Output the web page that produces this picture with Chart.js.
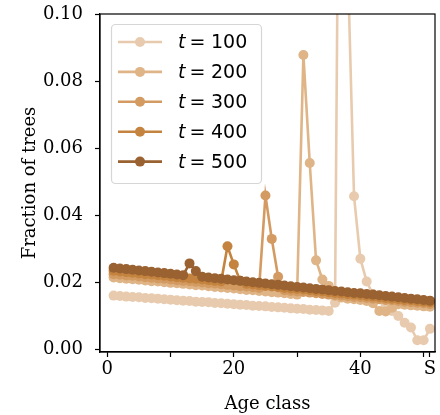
<!DOCTYPE html>
<html lang="en">
<head>
    <meta charset="UTF-8">
    <title>Age class distribution</title>
    <script src="https://cdn.jsdelivr.net/npm/chart.js@4.4.1/dist/chart.umd.min.js"></script>
    <style>
        body { margin: 0; background: #fff; }
        #wrap { width: 440px; height: 415px; position: relative; }
    </style>
</head>
<body>
    <div id="wrap"><canvas id="ageChart"></canvas></div>

    <script>
        // age classes 1..50 plus the final "S" class (plotted at 51)
        const ageClass = [1, 2, 3, 4, 5, 6, 7, 8, 9, 10, 11, 12, 13, 14, 15, 16, 17, 18, 19, 20,
            21, 22, 23, 24, 25, 26, 27, 28, 29, 30, 31, 32, 33, 34, 35, 36, 37, 38, 39, 40,
            41, 42, 43, 44, 45, 46, 47, 48, 49, 50, 51];

        const seriesLabels = ['100', '200', '300', '400', '500'];
        const seriesColors = ['#e8cbae', '#dfb486', '#d39b62', '#c4843f', '#9a6131'];

        const frac100 = [0.0161, 0.0160, 0.0158, 0.0157, 0.0156, 0.0154, 0.0153, 0.0152, 0.0150, 0.0149,
            0.0147, 0.0146, 0.0145, 0.0143, 0.0142, 0.0141, 0.0139, 0.0138, 0.0137, 0.0135,
            0.0134, 0.0133, 0.0131, 0.0130, 0.0129, 0.0127, 0.0126, 0.0125, 0.0123, 0.0122,
            0.0121, 0.0119, 0.0118, 0.0117, 0.0115, 0.0140, 0.2600, 0.1160, 0.0457, 0.0271,
            0.0203, 0.0165, 0.0152, 0.0135, 0.0115, 0.0100, 0.0080, 0.0066, 0.0028, 0.0028, 0.0062];
        const frac200 = [0.0215, 0.0213, 0.0211, 0.0210, 0.0208, 0.0206, 0.0204, 0.0203, 0.0201, 0.0199,
            0.0198, 0.0196, 0.0194, 0.0192, 0.0191, 0.0189, 0.0187, 0.0185, 0.0184, 0.0182,
            0.0180, 0.0178, 0.0177, 0.0175, 0.0173, 0.0171, 0.0170, 0.0168, 0.0166, 0.0164,
            0.0878, 0.0556, 0.0266, 0.0209, 0.0190, 0.0160, 0.0155, 0.0152, 0.0150, 0.0148,
            0.0145, 0.0138, 0.0115, 0.0114, 0.0125, 0.0135, 0.0134, 0.0132, 0.0131, 0.0129, 0.0128];
        const frac300 = [0.0225, 0.0223, 0.0221, 0.0220, 0.0218, 0.0216, 0.0214, 0.0212, 0.0211, 0.0209,
            0.0207, 0.0205, 0.0204, 0.0202, 0.0200, 0.0198, 0.0197, 0.0195, 0.0193, 0.0191,
            0.0189, 0.0188, 0.0186, 0.0184, 0.0459, 0.0330, 0.0217, 0.0177, 0.0175, 0.0173,
            0.0172, 0.0170, 0.0168, 0.0166, 0.0164, 0.0163, 0.0161, 0.0159, 0.0157, 0.0156,
            0.0154, 0.0152, 0.0150, 0.0148, 0.0147, 0.0145, 0.0143, 0.0141, 0.0140, 0.0138, 0.0136];
        const frac400 = [0.0235, 0.0233, 0.0231, 0.0229, 0.0227, 0.0225, 0.0224, 0.0222, 0.0220, 0.0218,
            0.0216, 0.0214, 0.0212, 0.0211, 0.0209, 0.0207, 0.0205, 0.0203, 0.0308, 0.0254,
            0.0205, 0.0196, 0.0194, 0.0192, 0.0190, 0.0188, 0.0186, 0.0184, 0.0182, 0.0181,
            0.0179, 0.0177, 0.0175, 0.0173, 0.0171, 0.0169, 0.0167, 0.0165, 0.0164, 0.0162,
            0.0160, 0.0158, 0.0156, 0.0154, 0.0152, 0.0150, 0.0148, 0.0147, 0.0145, 0.0143, 0.0141];
        const frac500 = [0.0244, 0.0242, 0.0240, 0.0238, 0.0236, 0.0234, 0.0232, 0.0230, 0.0228, 0.0226,
            0.0224, 0.0222, 0.0257, 0.0234, 0.0217, 0.0215, 0.0213, 0.0211, 0.0209, 0.0207,
            0.0205, 0.0203, 0.0201, 0.0199, 0.0197, 0.0195, 0.0193, 0.0191, 0.0189, 0.0187,
            0.0185, 0.0183, 0.0181, 0.0179, 0.0177, 0.0175, 0.0173, 0.0171, 0.0169, 0.0168,
            0.0166, 0.0164, 0.0162, 0.0160, 0.0158, 0.0156, 0.0154, 0.0152, 0.0150, 0.0148, 0.0146];
        const seriesValues = [frac100, frac200, frac300, frac400, frac500];

        const xTickValues = [0, 10, 20, 30, 40, 50, 51];
        const xTickLabels = ['0', '', '20', '', '40', '', 'S'];
        const yTickValues = [0, 0.02, 0.04, 0.06, 0.08, 0.10];

        const datasets = seriesValues.map((vals, i) => ({
            label: 't = ' + seriesLabels[i],
            data: vals.map((v, k) => ({x: ageClass[k], y: v})),
            borderColor: seriesColors[i],
            backgroundColor: seriesColors[i],
            borderWidth: 2.6,
            pointRadius: 5,
            pointBorderWidth: 0,
            pointHoverRadius: 5,
            tension: 0,
            order: seriesValues.length - i   // later times on top
        }));

        // box around the plot area
        const frame = {
            id: 'frame',
            afterDatasetsDraw(chart) {
                const {ctx, chartArea: a} = chart;
                ctx.save();
                ctx.strokeStyle = '#000';
                ctx.lineWidth = 1.2;
                ctx.strokeRect(a.left, a.top, a.right - a.left, a.bottom - a.top);
                ctx.restore();
            }
        };

        // legend with line + marker samples and math-style labels
        const mplLegend = {
            id: 'mplLegend',
            afterDraw(chart) {
                const ctx = chart.ctx;
                const x0 = 111, y0 = 24, w = 150, h = 159, r = 4;
                ctx.save();
                ctx.beginPath();
                ctx.roundRect(x0 + 0.5, y0 + 0.5, w, h, r);
                ctx.fillStyle = 'rgba(255,255,255,0.8)';
                ctx.fill();
                ctx.strokeStyle = '#d6d6d6';
                ctx.lineWidth = 1.2;
                ctx.stroke();
                chart.data.datasets.forEach((ds, i) => {
                    const y = 42 + i * 29.9;
                    ctx.strokeStyle = ds.borderColor;
                    ctx.lineWidth = 2.6;
                    ctx.beginPath();
                    ctx.moveTo(118, y);
                    ctx.lineTo(162, y);
                    ctx.stroke();
                    ctx.fillStyle = ds.backgroundColor;
                    ctx.beginPath();
                    ctx.arc(140, y, 5, 0, Math.PI * 2);
                    ctx.fill();
                    const base = y + 6;
                    ctx.fillStyle = '#000';
                    ctx.textBaseline = 'alphabetic';
                    ctx.textAlign = 'left';
                    ctx.font = 'italic 19px "DejaVu Sans"';
                    ctx.fillText('t', 178, base);
                    ctx.font = '19px "DejaVu Sans"';
                    ctx.textAlign = 'center';
                    ctx.fillText('=', 197.5, base);
                    ctx.textAlign = 'left';
                    ctx.fillText(seriesLabels[i], 211, base);
                });
                ctx.restore();
            }
        };

        const tickFont = {family: 'DejaVu Serif', size: 18};

        new Chart(document.getElementById('ageChart'), {
            type: 'line',
            data: {datasets},
            plugins: [frame, mplLegend],
            options: {
                responsive: true,
                maintainAspectRatio: false,
                animation: false,
                events: [],
                layout: {padding: {top: 14, right: 2, left: 0, bottom: 0}},
                plugins: {legend: {display: false}, tooltip: {enabled: false}},
                scales: {
                    x: {
                        type: 'linear',
                        min: -1.15,
                        max: 51.8,
                        afterFit(s) { s.height = 63; s.paddingLeft = 0; s.paddingRight = 0; },
                        afterBuildTicks(s) { s.ticks = xTickValues.map(v => ({value: v})); },
                        ticks: {
                            autoSkip: false,
                            maxRotation: 0,
                            color: '#000',
                            font: tickFont,
                            padding: 2,
                            callback: (v) => xTickLabels[xTickValues.indexOf(v)]
                        },
                        grid: {drawOnChartArea: false, tickLength: 5, tickColor: '#000', tickWidth: 1.2},
                        border: {display: true, color: '#000', width: 1.2},
                        title: {display: true, text: 'Age class', color: '#000', font: tickFont, padding: {bottom: 0}}
                    },
                    y: {
                        min: -0.0007,
                        max: 0.1,
                        afterFit(s) { s.width = 100; s.paddingTop = 0; s.paddingBottom = 0; },
                        afterBuildTicks(s) { s.ticks = yTickValues.map(v => ({value: v})); },
                        ticks: {
                            color: '#000',
                            font: tickFont,
                            padding: 12,
                            callback: (v) => v.toFixed(2)
                        },
                        grid: {drawOnChartArea: false, tickLength: 5, tickColor: '#000', tickWidth: 1.2},
                        border: {display: true, color: '#000', width: 1.2},
                        title: {display: true, text: 'Fraction of trees', color: '#000', font: tickFont, padding: {top: 20}}
                    }
                }
            }
        });
    </script>
</body>
</html>
